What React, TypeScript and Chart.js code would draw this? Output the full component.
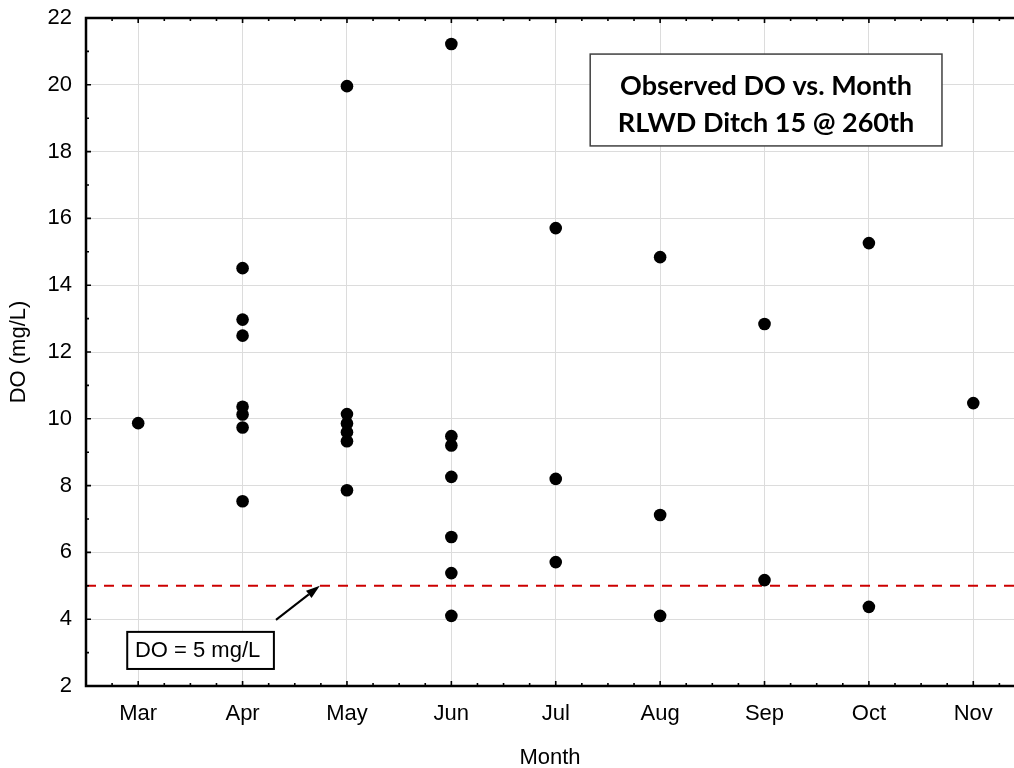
import { useEffect, useRef } from 'react';
import { Chart, registerables } from 'chart.js';

Chart.register(...registerables);

// ---- data ----
const MONTHS = ['Mar', 'Apr', 'May', 'Jun', 'Jul', 'Aug', 'Sep', 'Oct', 'Nov'];
const MONTH_NUMBERS = [3, 4, 5, 6, 7, 8, 9, 10, 11];
const DO_MAR = [9.87];
const DO_APR = [14.51, 12.97, 12.49, 10.36, 10.13, 9.74, 7.53];
const DO_MAY = [19.96, 10.14, 9.86, 9.6, 9.33, 7.86];
const DO_JUN = [21.22, 9.48, 9.2, 8.26, 6.46, 5.38, 4.1];
const DO_JUL = [15.71, 8.2, 5.71];
const DO_AUG = [14.84, 7.12, 4.1];
const DO_SEP = [12.84, 5.17];
const DO_OCT = [15.26, 4.37];
const DO_NOV = [10.47];
const DO_BY_MONTH = [DO_MAR, DO_APR, DO_MAY, DO_JUN, DO_JUL, DO_AUG, DO_SEP, DO_OCT, DO_NOV];
const Y_MIN = 2;
const Y_MAX = 22;
const Y_STEP = 2;
const X_MIN = 2.5;
const X_MAX = 11.39;
const STANDARD_DO = 5;
const TITLE_LINES = ['Observed DO vs. Month', 'RLWD Ditch 15 @ 260th'];
const STANDARD_LABEL = 'DO = 5 mg/L';
const X_TITLE = 'Month';
const Y_TITLE = 'DO (mg/L)';

const FONT = "'Liberation Sans', Arial, sans-serif";

const points = DO_BY_MONTH.flatMap((vals, i) =>
  vals.map((v) => ({ x: MONTH_NUMBERS[i], y: v }))
);

const decorPlugin = {
  id: 'decor',
  beforeDatasetsDraw(chart: any) {
    const { ctx, chartArea, scales } = chart;
    const y = scales.y;
    const py = y.getPixelForValue(STANDARD_DO);
    ctx.save();
    ctx.strokeStyle = '#cc0000';
    ctx.lineWidth = 2;
    ctx.setLineDash([10, 8]);
    ctx.beginPath();
    ctx.moveTo(chartArea.left, py);
    ctx.lineTo(chartArea.right, py);
    ctx.stroke();
    ctx.restore();
  },
  afterDraw(chart: any) {
    const { ctx, chartArea, scales } = chart;
    const x = scales.x;
    const y = scales.y;
    const { left, right, top, bottom } = chartArea;
    ctx.save();
    ctx.strokeStyle = '#000';
    ctx.lineWidth = 2.5;
    ctx.beginPath();
    ctx.moveTo(left, top);
    ctx.lineTo(right, top);
    ctx.moveTo(left, top - 1.25);
    ctx.lineTo(left, bottom + 1.25);
    ctx.moveTo(left, bottom);
    ctx.lineTo(right, bottom);
    ctx.stroke();

    // ticks
    ctx.lineWidth = 1.6;
    ctx.beginPath();
    for (let v = Y_MIN + 1; v < Y_MAX; v += 1) {
      const py = y.getPixelForValue(v);
      const len = v % 2 === 0 ? 5 : 3;
      ctx.moveTo(left, py);
      ctx.lineTo(left + len, py);
    }
    for (let v = 2.75; v < X_MAX; v += 0.25) {
      const px = x.getPixelForValue(v);
      const major = Math.abs(v - Math.round(v)) < 1e-6;
      const len = major ? 5 : 3;
      ctx.moveTo(px, bottom);
      ctx.lineTo(px, bottom - len);
      ctx.moveTo(px, top);
      ctx.lineTo(px, top + len);
    }
    ctx.stroke();

    // standard label box + arrow
    const bx1 = x.getPixelForValue(2.895);
    const bx2 = x.getPixelForValue(4.3);
    const by1 = y.getPixelForValue(3.62);
    const by2 = y.getPixelForValue(2.51);
    ctx.fillStyle = '#fff';
    ctx.fillRect(bx1, by1, bx2 - bx1, by2 - by1);
    ctx.lineWidth = 2;
    ctx.strokeRect(bx1, by1, bx2 - bx1, by2 - by1);
    ctx.fillStyle = '#000';
    ctx.font = `22px ${FONT}`;
    ctx.textAlign = 'center';
    ctx.textBaseline = 'middle';
    ctx.fillText(STANDARD_LABEL, (bx1 + bx2) / 2 - 3, (by1 + by2) / 2 + 1);

    const tx = x.getPixelForValue(4.32);
    const ty = y.getPixelForValue(3.98);
    const hx = x.getPixelForValue(4.74);
    const hy = y.getPixelForValue(STANDARD_DO);
    const ang = Math.atan2(hy - ty, hx - tx);
    const headLen = 14;
    const headW = 4.5;
    const baseX = hx - headLen * Math.cos(ang);
    const baseY = hy - headLen * Math.sin(ang);
    ctx.lineWidth = 2;
    ctx.beginPath();
    ctx.moveTo(tx, ty);
    ctx.lineTo(baseX, baseY);
    ctx.stroke();
    ctx.beginPath();
    ctx.moveTo(hx, hy);
    ctx.lineTo(baseX + headW * Math.sin(ang), baseY - headW * Math.cos(ang));
    ctx.lineTo(baseX - headW * Math.sin(ang), baseY + headW * Math.cos(ang));
    ctx.closePath();
    ctx.fill();

    // title box
    const tx1 = x.getPixelForValue(7.33);
    const tx2 = x.getPixelForValue(10.7);
    const ty1 = y.getPixelForValue(20.92);
    const ty2 = y.getPixelForValue(18.17);
    ctx.fillStyle = '#fff';
    ctx.fillRect(tx1, ty1, tx2 - tx1, ty2 - ty1);
    ctx.strokeStyle = '#404040';
    ctx.lineWidth = 1.5;
    ctx.strokeRect(tx1, ty1, tx2 - tx1, ty2 - ty1);
    ctx.fillStyle = '#000';
    ctx.font = `bold 27px Lato, 'Open Sans', sans-serif`;
    const cx = (tx1 + tx2) / 2;
    const cy = (ty1 + ty2) / 2;
    ctx.fillText(TITLE_LINES[0], cx, cy - 13.5);
    ctx.fillText(TITLE_LINES[1], cx, cy + 23.5);
    ctx.restore();
  },
};

export default function App() {
  const canvasRef = useRef<HTMLCanvasElement | null>(null);

  useEffect(() => {
    if (!canvasRef.current) return;
    const chart = new Chart(canvasRef.current, {
      type: 'scatter',
      data: {
        datasets: [
          {
            label: 'DO',
            data: points,
            pointRadius: 6.3,
            pointHoverRadius: 6.3,
            pointBackgroundColor: '#000',
            pointBorderWidth: 0,
            showLine: false,
          },
        ],
      },
      options: {
        animation: false,
        responsive: true,
        maintainAspectRatio: false,
        layout: { autoPadding: false, padding: { top: 18, right: 0, left: 0, bottom: 0 } },
        plugins: {
          legend: { display: false },
          tooltip: { enabled: false },
        },
        scales: {
          x: {
            type: 'linear',
            min: X_MIN,
            max: X_MAX,
            afterBuildTicks: (scale: any) => {
              scale.ticks = MONTH_NUMBERS.map((v) => ({ value: v }));
            },
            afterFit: (scale: any) => {
              scale.height = 82;
              scale.paddingLeft = 0;
              scale.paddingRight = 0;
            },
            ticks: {
              autoSkip: false,
              maxRotation: 0,
              padding: 15,
              color: '#000',
              font: { family: FONT, size: 22 },
              callback: (value: any) => MONTHS[MONTH_NUMBERS.indexOf(Number(value))] ?? '',
            },
            grid: { color: '#dcdcdc', lineWidth: 1, drawTicks: false },
            border: { display: false },
            title: {
              display: true,
              text: X_TITLE,
              color: '#000',
              font: { family: FONT, size: 22 },
              padding: { top: 0, bottom: -3.5 },
            },
          },
          y: {
            type: 'linear',
            min: Y_MIN,
            max: Y_MAX,
            afterFit: (scale: any) => {
              scale.width = 86;
              scale.paddingTop = 0;
              scale.paddingBottom = 0;
            },
            ticks: {
              stepSize: Y_STEP,
              padding: 14,
              color: '#000',
              font: { family: FONT, size: 22 },
            },
            grid: { color: '#dcdcdc', lineWidth: 1, drawTicks: false },
            border: { display: false },
            title: {
              display: true,
              text: Y_TITLE,
              color: '#000',
              font: { family: FONT, size: 22 },
              padding: { top: 5.8, bottom: 0 },
            },
          },
        },
      },
      plugins: [decorPlugin],
    });
    return () => chart.destroy();
  }, []);

  return (
    <div style={{ position: 'fixed', left: 0, top: 0, width: 1014, height: 768, background: '#fff' }}>
      <canvas ref={canvasRef} />
    </div>
  );
}
